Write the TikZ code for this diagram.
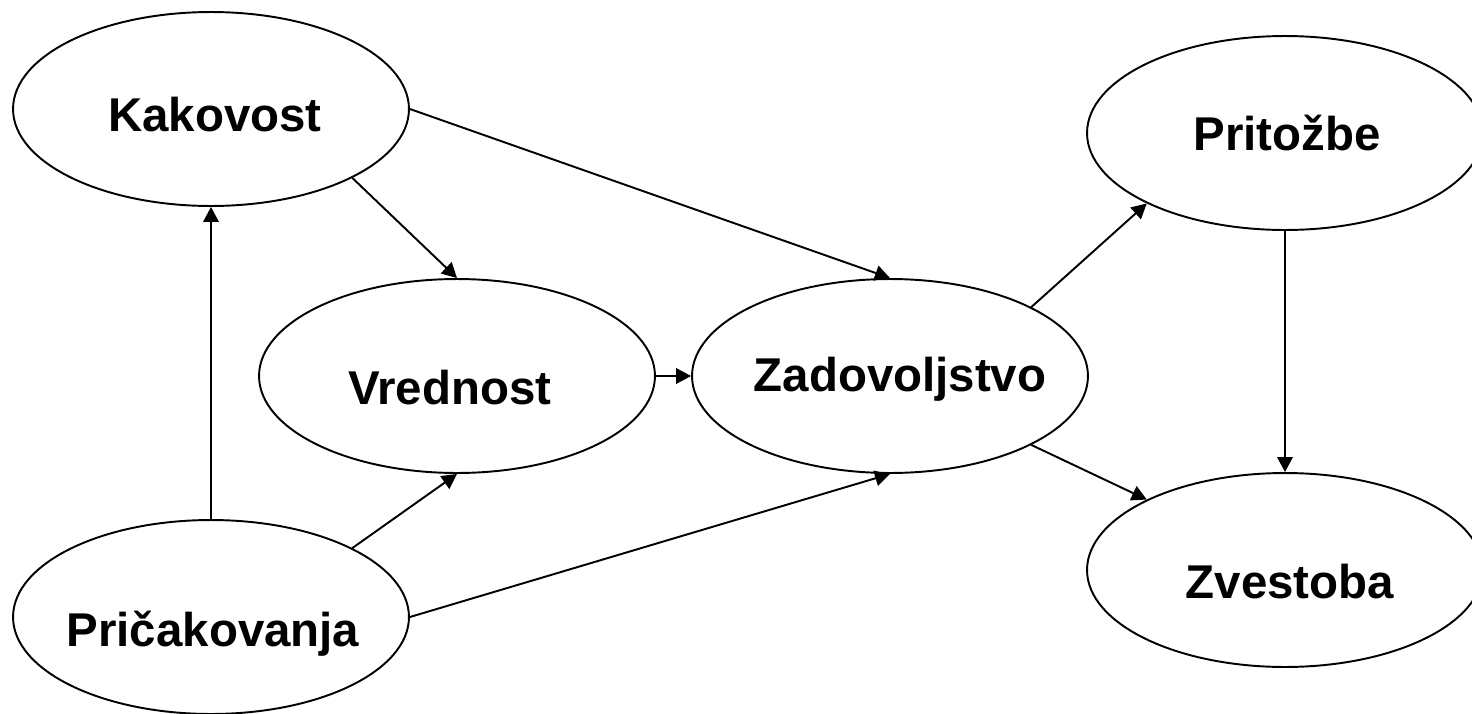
\documentclass[tikz,border=0pt]{standalone}
\usepackage{fontspec}
\setmainfont{Liberation Sans}
\usetikzlibrary{shapes.geometric,arrows.meta}

\begin{document}
\begin{tikzpicture}[
  x=0.02cm, y=-0.02cm,
  factor/.style={ellipse, draw, line width=1.1pt, minimum width=7.92cm, minimum height=3.88cm, inner sep=0pt},
  lbl/.style={font=\fontsize{27}{30}\selectfont\bfseries, text height=19.3pt, text depth=0pt, inner sep=0pt},
  link/.style={-{Triangle[length=0.3cm, width=0.31cm]}, line width=1.1pt}
  ]
  \useasboundingbox (0,0) rectangle (1472,714);

  % Define nodes
  \node[factor] (kak)   at (211,109)  {};
  \node[factor] (vred)  at (457,376)  {};
  \node[factor] (zad)   at (890,376)  {};
  \node[factor] (prit)  at (1285,133) {};
  \node[factor] (zvest) at (1285,570) {};
  \node[factor] (pric)  at (211,617)  {};

  % Labels
  \node[lbl] (kakT)   at (215,114.5) {Kakovost};
  \node[lbl] (vredT)  at (450,388)   {Vrednost};
  \node[lbl] (zadT)   at (900,374.5) {Zadovoljstvo};
  \node[lbl] (pritT)  at (1287,134)  {Pritožbe};
  \node[lbl] (zvestT) at (1290,582)  {Zvestoba};
  \node[lbl] (pricT)  at (213,630)   {Pričakovanja};

  % Draw arrows
  \draw[link] (pric.north) -- (kak.south);
  \draw[link] (kak.-26) -- (vred.north);
  \draw[link] (kak.east) -- (zad.north);
  \draw[link] (vred.east) -- (zad.west);
  \draw[link] (pric.26) -- (vred.south);
  \draw[link] (pric.east) -- (zad.south);
  \draw[link] (zad.26) -- (prit.-153);
  \draw[link] (zad.-26) -- (zvest.153);
  \draw[link] (prit.south) -- (zvest.north);
\end{tikzpicture}
\end{document}
